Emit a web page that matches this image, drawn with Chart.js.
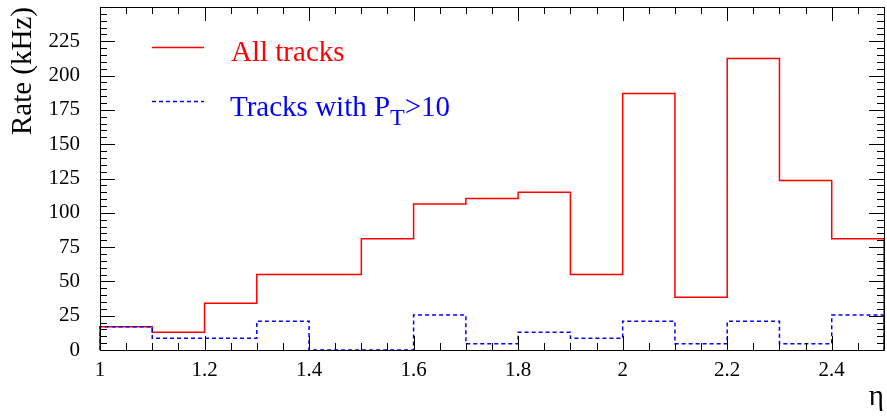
<!DOCTYPE html>
<html>
<head>
<meta charset="utf-8">
<script src="https://cdn.jsdelivr.net/npm/chart.js@4.4.1/dist/chart.umd.min.js"></script>
<style>
  html, body { margin: 0; padding: 0; background: #fff; }
  canvas { display: block; }
</style>
</head>
<body>
<canvas id="ratechart" width="887" height="420"></canvas>
<script>
// eta bin edges (15 bins of 0.1)
var binEdges = [1.0, 1.1, 1.2, 1.3, 1.4, 1.5, 1.6, 1.7, 1.8, 1.9, 2.0, 2.1, 2.2, 2.3, 2.4, 2.5];
// rates per bin in kHz
var allTracks = [17, 13, 34, 55, 55, 81, 106.5, 110.5, 115, 55, 187, 38.5, 212.5, 123.5, 81];
var highPtTracks = [17, 8.5, 8.5, 21, 0, 0, 25.5, 4.5, 13, 8.5, 21, 4.5, 21, 4.5, 25.5];
var xTicks = [1, 1.2, 1.4, 1.6, 1.8, 2, 2.2, 2.4];
var yTicks = [0, 25, 50, 75, 100, 125, 150, 175, 200, 225];

var serif = 'Liberation Serif';

// turn bin contents into a closed step outline
function histPoints(vals) {
  var pts = [{ x: binEdges[0], y: 0 }];
  vals.forEach(function (v, i) { pts.push({ x: binEdges[i], y: v }); });
  var last = binEdges[vals.length];
  pts.push({ x: last, y: vals[vals.length - 1] });
  pts.push({ x: last, y: 0 });
  return pts;
}

// box frame with inward ticks on all four sides + the legend
var frameTicks = {
  id: 'frameTicks',
  afterDraw: function (chart) {
    var ctx = chart.ctx, a = chart.chartArea;
    var x = chart.scales.x, y = chart.scales.y;
    ctx.save();
    ctx.strokeStyle = '#000';
    ctx.lineWidth = 1;
    ctx.beginPath();
    ctx.rect(a.left + 0.5, a.top + 0.5, a.right - a.left, a.bottom - a.top);
    ctx.stroke();

    ctx.beginPath();
    for (var i = 0; i <= 30; i++) {
      var v = 1 + i * 0.05;
      var px = Math.round(x.getPixelForValue(v)) + 0.5;
      var len = (i % 4 === 0) ? 14 : 7;
      ctx.moveTo(px, a.bottom); ctx.lineTo(px, a.bottom - len);
      ctx.moveTo(px, a.top); ctx.lineTo(px, a.top + len);
    }
    for (var j = 0; j <= 50; j++) {
      var py = Math.round(y.getPixelForValue(j * 5)) + 0.5;
      var l = (j % 5 === 0) ? 15 : 7;
      ctx.moveTo(a.left, py); ctx.lineTo(a.left + l, py);
      ctx.moveTo(a.right, py); ctx.lineTo(a.right - l, py);
    }
    ctx.stroke();

    // legend
    ctx.lineWidth = 1.5;
    ctx.strokeStyle = 'red';
    ctx.beginPath(); ctx.moveTo(152, 47.5); ctx.lineTo(204, 47.5); ctx.stroke();
    ctx.strokeStyle = 'blue';
    ctx.setLineDash([4, 3]);
    ctx.beginPath(); ctx.moveTo(152, 101.5); ctx.lineTo(204, 101.5); ctx.stroke();
    ctx.setLineDash([]);

    ctx.textBaseline = 'alphabetic';
    ctx.textAlign = 'left';
    ctx.font = '29px "' + serif + '"';
    ctx.fillStyle = 'red';
    ctx.fillText('All tracks', 231, 61);
    ctx.fillStyle = 'blue';
    var t1 = 'Tracks with P';
    ctx.fillText(t1, 230, 116);
    var w1 = ctx.measureText(t1).width;
    ctx.font = '24px "' + serif + '"';
    ctx.fillText('T', 230 + w1, 125);
    var w2 = ctx.measureText('T').width;
    ctx.font = '29px "' + serif + '"';
    ctx.fillText('>10', 230 + w1 + w2, 116);
    ctx.restore();
  }
};

var rateChart;

document.addEventListener("DOMContentLoaded", function (event) {
  var ctx = document.getElementById("ratechart").getContext('2d');
  rateChart = new Chart(ctx, {
    type: 'line',
    data: {
      datasets: [{
        label: 'All tracks',
        data: histPoints(allTracks),
        borderColor: 'red',
        borderWidth: 1.5,
        stepped: 'before',
        pointRadius: 0,
        fill: false,
        clip: 4,
        order: 2
      }, {
        label: 'Tracks with PT>10',
        data: histPoints(highPtTracks),
        borderColor: 'blue',
        borderWidth: 1.5,
        borderDash: [4, 3],
        stepped: 'before',
        pointRadius: 0,
        fill: false,
        clip: 4,
        order: 1
      }]
    },
    options: {
      responsive: false,
      animation: { duration: 0 },
      layout: { padding: { top: 7, right: 3, left: 0, bottom: 0 } },
      plugins: {
        legend: { display: false },
        tooltip: { enabled: false }
      },
      scales: {
        x: {
          type: 'linear',
          min: 1,
          max: 2.5,
          grid: { display: false, drawTicks: false },
          border: { display: false },
          afterBuildTicks: function (s) { s.ticks = xTicks.map(function (v) { return { value: v }; }); },
          afterFit: function (s) { s.height = 70; s.paddingLeft = 0; s.paddingRight = 0; },
          ticks: {
            padding: 8,
            maxRotation: 0,
            color: '#000',
            font: { family: serif, size: 21 },
            callback: function (v) { return String(v); }
          },
          title: {
            display: true,
            text: 'η',
            align: 'end',
            color: '#000',
            font: { family: serif, size: 29 },
            padding: { top: 0, bottom: 5 }
          }
        },
        y: {
          min: 0,
          max: 250,
          grid: { display: false, drawTicks: false },
          border: { display: false },
          afterBuildTicks: function (s) { s.ticks = yTicks.map(function (v) { return { value: v }; }); },
          afterFit: function (s) { s.width = 100; s.paddingTop = 0; s.paddingBottom = 0; },
          ticks: {
            padding: 20,
            color: '#000',
            font: { family: serif, size: 21 }
          },
          title: {
            display: true,
            text: 'Rate (kHz)',
            align: 'end',
            color: '#000',
            font: { family: serif, size: 29 },
            padding: { top: 6, bottom: 0 }
          }
        }
      }
    },
    plugins: [frameTicks]
  });
});
</script>
</body>
</html>
